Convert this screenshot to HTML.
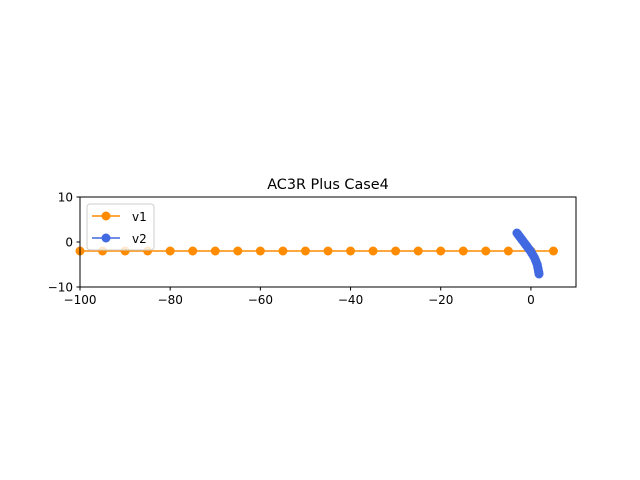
<!DOCTYPE html>
<html><head><meta charset="utf-8"><style>body{margin:0;background:#fff}svg{display:block;font-family:"DejaVu Sans","Liberation Sans",sans-serif}</style></head>
<body>
<svg id="chart" width="640" height="480" xmlns="http://www.w3.org/2000/svg">
<rect width="640" height="480" fill="#fff"/>
<text x="328" y="189" font-size="14.4" text-anchor="middle">AC3R Plus Case4</text>
<g id="plot"></g>
<g id="axes"></g>
<g>
<rect x="87" y="204" width="67" height="46" rx="3" fill="#fff" fill-opacity="0.8" stroke="#ccc"/>
<line x1="92" y1="216" x2="120" y2="216" stroke="#ff8c00" stroke-width="1.5"/><circle cx="106" cy="216" r="4.5" fill="#ff8c00"/>
<text x="132" y="221" font-size="12">v1</text>
<line x1="92" y1="238" x2="120" y2="238" stroke="#4169e1" stroke-width="1.5"/><circle cx="106" cy="238" r="4.5" fill="#4169e1"/>
<text x="132" y="243" font-size="12">v2</text>
</g>
</svg>
<script>
const v1x=[-100,-95,-90,-85,-80,-75,-70,-65,-60,-55,-50,-45,-40,-35,-30,-25,-20,-15,-10,-5,0,5];
const v1y=[-2,-2,-2,-2,-2,-2,-2,-2,-2,-2,-2,-2,-2,-2,-2,-2,-2,-2,-2,-2,-2,-2];
const v2x=[-3.1,-2.8,-2.5,-2.2,-1.9,-1.6,-1.3,-1.0,-0.7,-0.4,-0.1,0.2,0.5,0.8,1.0,1.2,1.4,1.5,1.6,1.7,1.75,1.8];
const v2y=[2.0,1.6,1.2,0.8,0.4,0.0,-0.4,-0.8,-1.2,-1.6,-2.0,-2.5,-3.0,-3.5,-4.0,-4.5,-5.0,-5.5,-6.0,-6.5,-6.8,-7.1];
const xTicks=[-100,-80,-60,-40,-20,0];
const yTicks=[-10,0,10];
const L=80,R=576,T=197,B=287,x0=-100,x1=10,y0=-10,y1=10;
const X=v=>L+(v-x0)/(x1-x0)*(R-L), Y=v=>B-(v-y0)/(y1-y0)*(B-T);
const NS='http://www.w3.org/2000/svg';
function mk(p,t,a){const e=document.createElementNS(NS,t);for(const k in a)e.setAttribute(k,a[k]);p.appendChild(e);return e;}
const plot=document.getElementById('plot'),axes=document.getElementById('axes');
function series(xs,ys,c,n){
 const pl=mk(plot,'polyline',{points:xs.map((v,i)=>X(v)+','+Y(ys[i])).join(' '),fill:'none',stroke:c,'stroke-width':1.5});
 
 
 xs.forEach((v,i)=>{const c1=mk(plot,'circle',{cx:X(v),cy:Y(ys[i]),r:4.5,fill:c});
  
  });
}
series(v1x,v1y,'#ff8c00','v1');
series(v2x,v2y,'#4169e1','v2');
const fr=mk(axes,'rect',{x:L,y:T,width:R-L,height:B-T,fill:'none',stroke:'#000','stroke-width':1});


xTicks.forEach(t=>{mk(axes,'line',{x1:X(t),x2:X(t),y1:B,y2:B+3.5,stroke:'#000'});
 const tx=mk(axes,'text',{x:X(t),y:B+17,'font-size':12,'text-anchor':'middle'});tx.textContent=String(t).replace('-','\u2212');
 
 });
yTicks.forEach(t=>{mk(axes,'line',{x1:L-3.5,x2:L,y1:Y(t),y2:Y(t),stroke:'#000'});
 const tx=mk(axes,'text',{x:L-7,y:Y(t)+4.5,'font-size':12,'text-anchor':'end'});tx.textContent=String(t).replace('-','\u2212');
 
 });
</script>
</body></html>
